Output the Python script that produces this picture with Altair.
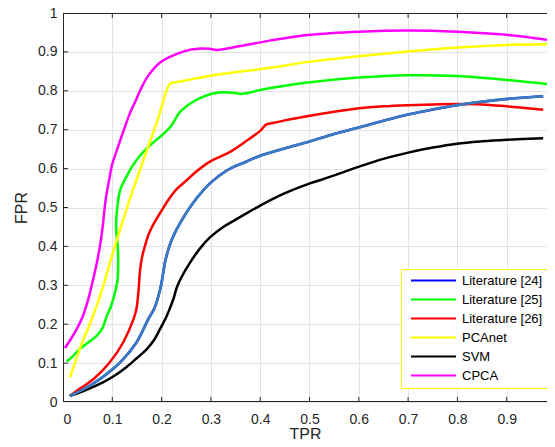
import altair as alt
import pandas as pd

series = ["Literature [24]", "Literature [25]", "Literature [26]", "PCAnet", "SVM", "CPCA"]
legend_colors = ["#0000ff", "#00ff00", "#ff0000", "#ffff00", "#000000", "#ff00ff"]
lit24_line_color = "#3a7cbf"

lit24_x = [0.014, 0.045, 0.075, 0.116, 0.149, 0.173, 0.185, 0.193, 0.199, 0.203, 0.207, 0.212, 0.220,
           0.231, 0.251, 0.270, 0.298, 0.332, 0.370, 0.40, 0.45, 0.501, 0.55, 0.601, 0.65, 0.70,
           0.75, 0.799, 0.85, 0.90, 0.974]
lit24_y = [0.016, 0.035, 0.059, 0.102, 0.153, 0.213, 0.240, 0.270, 0.300, 0.330, 0.360, 0.385, 0.415,
           0.445, 0.488, 0.522, 0.562, 0.595, 0.617, 0.633, 0.652, 0.670, 0.689, 0.706, 0.723, 0.739,
           0.752, 0.763, 0.772, 0.779, 0.786]

lit25_x = [0.0075, 0.02, 0.034, 0.05, 0.068, 0.08, 0.089, 0.097, 0.102, 0.107, 0.111, 0.112, 0.111,
           0.108, 0.108, 0.111, 0.116, 0.129, 0.14, 0.156, 0.176, 0.20, 0.219, 0.237, 0.264, 0.285,
           0.312, 0.345, 0.362, 0.40, 0.44, 0.501, 0.60, 0.70, 0.799, 0.90, 0.984]
lit25_y = [0.104, 0.118, 0.136, 0.152, 0.170, 0.19, 0.222, 0.245, 0.265, 0.29, 0.32, 0.36, 0.40,
           0.44, 0.47, 0.51, 0.545, 0.58, 0.605, 0.633, 0.659, 0.685, 0.709, 0.745, 0.772, 0.785,
           0.795, 0.795, 0.792, 0.802, 0.811, 0.822, 0.834, 0.840, 0.838, 0.828, 0.817]

lit26_x = [0.014, 0.035, 0.062, 0.095, 0.122, 0.143, 0.149, 0.152, 0.154, 0.156, 0.160, 0.166, 0.175,
           0.187, 0.200, 0.215, 0.231, 0.251, 0.268, 0.298, 0.339, 0.373, 0.40, 0.412, 0.425, 0.45,
           0.501, 0.55, 0.601, 0.65, 0.70, 0.75, 0.799, 0.85, 0.90, 0.974]
lit26_y = [0.016, 0.035, 0.059, 0.102, 0.153, 0.213, 0.240, 0.270, 0.300, 0.335, 0.370, 0.400, 0.435,
           0.465, 0.492, 0.522, 0.548, 0.570, 0.590, 0.618, 0.643, 0.672, 0.697, 0.713, 0.717, 0.724,
           0.736, 0.746, 0.755, 0.760, 0.763, 0.765, 0.766, 0.765, 0.760, 0.751]

pcanet_x = [0.014, 0.034, 0.058, 0.075, 0.09, 0.105, 0.122, 0.14, 0.166, 0.192, 0.218, 0.23,
            0.312, 0.42, 0.501, 0.60, 0.70, 0.80, 0.90, 0.984]
pcanet_y = [0.063, 0.136, 0.212, 0.272, 0.335, 0.40, 0.468, 0.538, 0.632, 0.725, 0.819, 0.822,
            0.841, 0.859, 0.875, 0.889, 0.901, 0.911, 0.918, 0.920]

svm_x = [0.014, 0.045, 0.082, 0.105, 0.129, 0.150, 0.170, 0.185, 0.197, 0.210, 0.218, 0.224, 0.231,
         0.240, 0.258, 0.278, 0.298, 0.325, 0.352, 0.40, 0.447, 0.501, 0.528, 0.601, 0.65, 0.70,
         0.75, 0.799, 0.85, 0.90, 0.974]
svm_y = [0.016, 0.03, 0.051, 0.068, 0.09, 0.113, 0.136, 0.16, 0.188, 0.22, 0.245, 0.265, 0.295,
         0.32, 0.359, 0.395, 0.423, 0.450, 0.47, 0.505, 0.535, 0.562, 0.573, 0.605, 0.625, 0.641,
         0.654, 0.664, 0.670, 0.674, 0.678]

cpca_x = [0.004, 0.015, 0.028, 0.040, 0.048, 0.055, 0.062, 0.069, 0.075, 0.080, 0.085, 0.089, 0.094,
          0.099, 0.11, 0.122, 0.135, 0.149, 0.160, 0.173, 0.197, 0.231, 0.26, 0.28, 0.297, 0.312,
          0.36, 0.42, 0.501, 0.60, 0.70, 0.80, 0.90, 0.984]
cpca_y = [0.139, 0.16, 0.188, 0.22, 0.25, 0.282, 0.32, 0.36, 0.402, 0.445, 0.505, 0.54, 0.573,
          0.607, 0.65, 0.694, 0.74, 0.779, 0.81, 0.839, 0.873, 0.895, 0.906, 0.909, 0.908, 0.905,
          0.915, 0.929, 0.944, 0.952, 0.955, 0.952, 0.944, 0.931]

x_label_vals = [0, 0.1, 0.2, 0.3, 0.4, 0.5, 0.6, 0.7, 0.8, 0.9]
y_label_vals = [0, 0.1, 0.2, 0.3, 0.4, 0.5, 0.6, 0.7, 0.8, 0.9, 1]
inner_ticks = [0.1, 0.2, 0.3, 0.4, 0.5, 0.6, 0.7, 0.8, 0.9]

rows = []
for name, xs, ys in zip(series,
                        [lit24_x, lit25_x, lit26_x, pcanet_x, svm_x, cpca_x],
                        [lit24_y, lit25_y, lit26_y, pcanet_y, svm_y, cpca_y]):
    for i, (xv, yv) in enumerate(zip(xs, ys)):
        rows.append({"series": name, "tpr": xv, "fpr": yv, "idx": i})
df = pd.DataFrame(rows)

W, H = 484, 389
FONT = "Liberation Sans"
# the x axis box extends just past the visible page edge, as in the reference
xscale = alt.Scale(domain=[0, 484 / 493], nice=False, zero=False)
yscale = alt.Scale(domain=[0, 1], nice=False, zero=False)

x_axis = alt.Axis(values=x_label_vals, format=".1~f", title="TPR", grid=True,
                  labelPadding=10, titleY=37, titleBaseline="alphabetic")
y_axis = alt.Axis(values=y_label_vals, format=".1~f", title="FPR", grid=True,
                  labelPadding=6, titlePadding=8)

X = alt.X("tpr:Q", scale=xscale, axis=x_axis)
Y = alt.Y("fpr:Q", scale=yscale, axis=y_axis)

lines = alt.Chart(df).mark_line(strokeWidth=2.5, interpolate="catmull-rom", clip=True).encode(
    x=X, y=Y,
    color=alt.Color(
        "series:N",
        scale=alt.Scale(domain=series, range=legend_colors),
        legend=alt.Legend(
            title=None, orient="none", legendX=338, legendY=256, direction="vertical",
            symbolType="M-4.5,0H4.5", symbolSize=100, symbolStrokeWidth=2,
            symbolOffset=21, labelOffset=22, labelFont=FONT, labelFontSize=13,
            labelColor="#000000", rowPadding=5, padding=5, labelLimit=300,
            strokeColor="#ffff00", fillColor="#ffffff",
        ),
    ),
    order=alt.Order("idx:Q"),
)

lit24_line = alt.Chart(df).transform_filter(
    alt.datum.series == series[0]
).mark_line(strokeWidth=2.7, interpolate="catmull-rom", color=lit24_line_color, clip=True).encode(
    x=X, y=Y, order=alt.Order("idx:Q"),
)

xt = pd.DataFrame({"tpr": inner_ticks})
yt = pd.DataFrame({"fpr": inner_ticks})
ink = "#262626"
bottom_ticks = alt.Chart(xt).mark_rule(color=ink, strokeWidth=1).encode(
    x=X, y=alt.value(H), y2=alt.value(H - 5))
top_ticks = alt.Chart(xt).mark_rule(color=ink, strokeWidth=1).encode(
    x=X, y=alt.value(0), y2=alt.value(5))
left_ticks = alt.Chart(yt).mark_rule(color=ink, strokeWidth=1).encode(
    y=Y, x=alt.value(0), x2=alt.value(5))

top_line = alt.Chart(xt).mark_rule(color=ink, strokeWidth=1).encode(
    x=alt.value(0), x2=alt.value(W), y=alt.value(0.5))
bottom_line = alt.Chart(xt).mark_rule(color=ink, strokeWidth=1).encode(
    x=alt.value(0), x2=alt.value(W), y=alt.value(H - 0.5))
left_line = alt.Chart(xt).mark_rule(color=ink, strokeWidth=1).encode(
    x=alt.value(0.5), y=alt.value(0), y2=alt.value(H))

chart = alt.layer(
    bottom_ticks, top_ticks, left_ticks, lines, lit24_line, top_line, bottom_line, left_line
).properties(
    width=W, height=H,
    autosize=alt.AutoSizeParams(type="none"),
    padding={"left": 55, "top": 5, "right": 0, "bottom": 37},
).configure_view(
    stroke=None
).configure_axis(
    labelFont=FONT, labelFontSize=14, labelColor="#262626",
    titleFont=FONT, titleFontSize=16, titleColor="#262626", titleFontWeight="normal",
    gridColor="#e3e3e3", gridOpacity=1, gridWidth=1, domain=False, ticks=False,
)

chart.save("out.html", embed_options={"renderer": "svg", "actions": False})
